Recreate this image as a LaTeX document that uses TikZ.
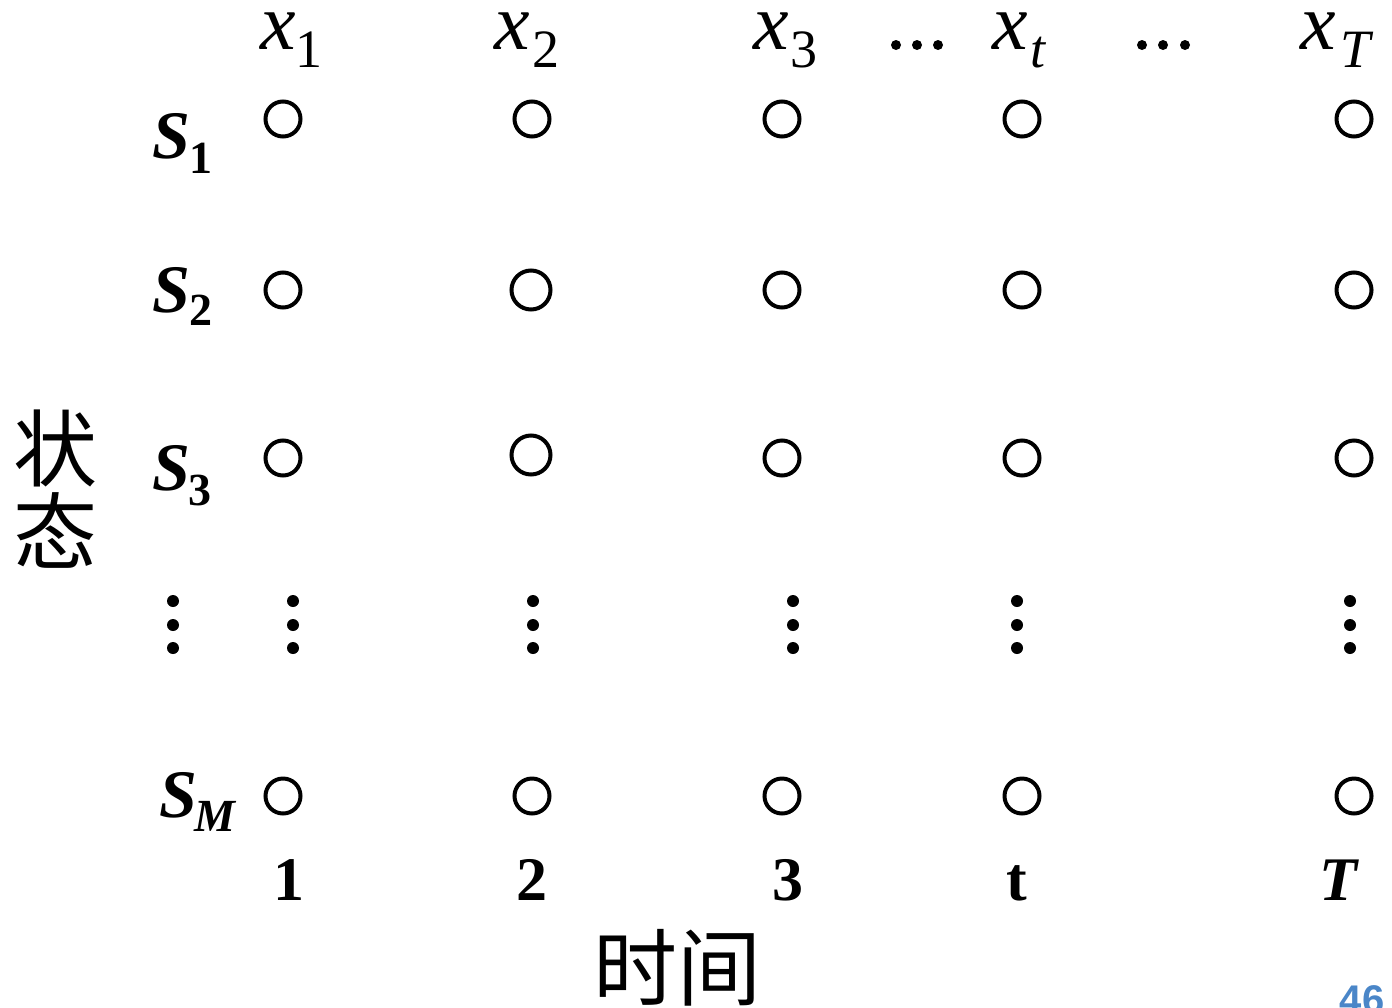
\documentclass[tikz,border=0pt]{standalone}
\usepackage{fontspec}
\setmainfont{Liberation Serif}
\newfontfamily\cjk{Noto Sans CJK SC}
\newfontfamily\sansf{Liberation Sans}
\definecolor{pgblue}{HTML}{4A86C8}
\newcommand{\fs}[1]{\fontsize{#1}{#1}\selectfont}
\begin{document}
\begin{tikzpicture}[x=1pt,y=-1pt,
  st/.style={circle,draw,line width=4pt,minimum size=35pt,inner sep=0pt},
  bigst/.style={st,minimum size=39pt},
  vd/.style={circle,fill,minimum size=12pt,inner sep=0pt},
  hd/.style={circle,fill,minimum size=10pt,inner sep=0pt},
  lab/.style={inner sep=0pt,anchor=base},
  xlab/.style={lab,text height=0.48em}]
\useasboundingbox (0,0) rectangle (1392,1007);
% state circles
\foreach \c/\x in {1/283,3/782,t/1022,T/1354}{
  \foreach \r/\y in {1/119,2/290,3/458,M/796}{
    \node[st] (n\r\c) at (\x,\y) {};
  }
}
\node[st] (n12) at (532,119) {};
\node[bigst] (n22) at (531,290) {};
\node[bigst] (n32) at (531,455) {};
\node[st] (nM2) at (532,796) {};
% vertical dots
\foreach \k/\x in {a/173,b/293,c/533,d/793,e/1017,f/1350}{
  \foreach \j/\y in {1/601,2/625,3/648}{
    \node[vd] (v\k\j) at (\x,\y) {};
  }
}
% horizontal dots
\foreach \j/\x in {1/896,2/917,3/938}{\node[hd] (ha\j) at (\x,45) {};}
\foreach \j/\x in {1/1142,2/1163,3/1185}{\node[hd] (hb\j) at (\x,45) {};}
% top labels
\node[xlab] (x1) at (278,49) {\fs{80}\itshape x};
\node[lab] (x1s) at (309,67) {\fs{54}1};
\node[xlab] (x2) at (512,49) {\fs{80}\itshape x};
\node[lab] (x2s) at (546,67) {\fs{54}2};
\node[xlab] (x3) at (771,49) {\fs{80}\itshape x};
\node[lab] (x3s) at (804,67) {\fs{54}3};
\node[xlab] (xt) at (1010,49) {\fs{80}\itshape x};
\node[lab] (xts) at (1038,67) {\fs{54}\itshape t};
\node[xlab] (xT) at (1318,49) {\fs{80}\itshape x};
\node[lab] (xTs) at (1355,67) {\fs{54}\itshape T};
% state labels
\node[lab] (s1) at (171,158) {\fs{68}\bfseries\itshape S};
\node[lab] (s1s) at (201,173) {\fs{46}\bfseries 1};
\node[lab] (s2) at (171,312) {\fs{68}\bfseries\itshape S};
\node[lab] (s2s) at (201,325) {\fs{46}\bfseries 2};
\node[lab] (s3) at (171,490) {\fs{68}\bfseries\itshape S};
\node[lab] (s3s) at (200,505) {\fs{46}\bfseries 3};
\node[lab] (sM) at (178,817) {\fs{68}\bfseries\itshape S};
\node[lab] (sMs) at (215,831) {\fs{46}\bfseries\itshape M};
% time labels
\node[lab] (t1) at (289,900) {\fs{62}\bfseries 1};
\node[lab] (t2) at (532,900) {\fs{62}\bfseries 2};
\node[lab] (t3) at (788,900) {\fs{62}\bfseries 3};
\node[lab] (tt) at (1017,900) {\fs{62}\bfseries t};
\node[lab] (tT) at (1338,900) {\fs{62}\bfseries\itshape T};
% axis titles
\node[inner sep=0pt] (zt) at (55,448) {\cjk\fs{84}状};
\node[inner sep=0pt] (zt2) at (55,530) {\cjk\fs{84}态};
\node[inner sep=0pt] (sj) at (677,968) {\cjk\fs{84}时间};
% page number
\node[lab,text=pgblue] (pg) at (1362,1013) {\sansf\bfseries\fs{40}46};
\end{tikzpicture}
\end{document}
